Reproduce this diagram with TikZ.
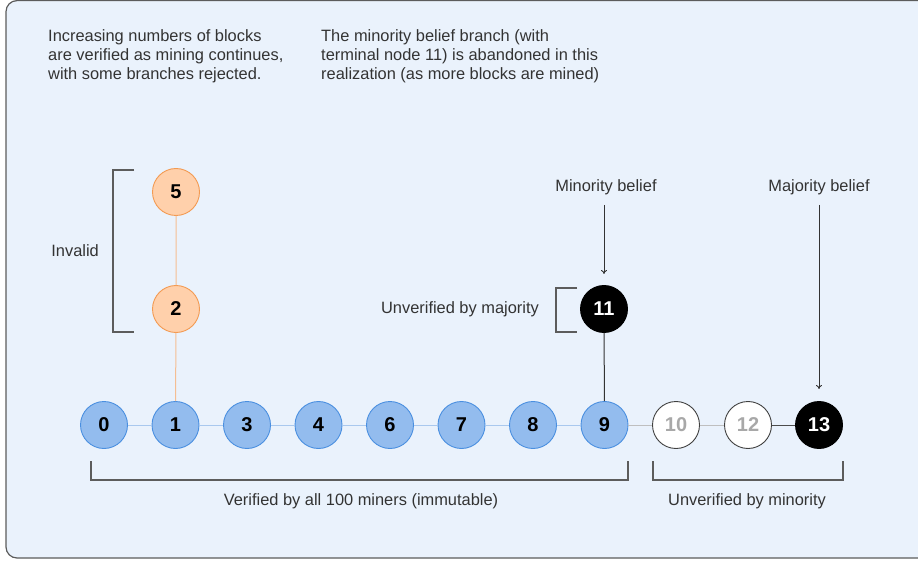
\documentclass[tikz,border=0pt]{standalone}
\usepackage{fontspec}
\setmainfont{Liberation Sans}
\usetikzlibrary{arrows.meta}
\definecolor{panelbg}{HTML}{EAF2FC}
\definecolor{panelline}{HTML}{5C5C5C}
\definecolor{blkblue}{HTML}{93BCEE}
\definecolor{blkblueline}{HTML}{4A8FE0}
\definecolor{linkblue}{HTML}{A9C8EE}
\definecolor{blkorange}{HTML}{FFD0AB}
\definecolor{blkorangeline}{HTML}{F39A52}
\definecolor{linkorange}{HTML}{F5BE93}
\definecolor{txtgray}{HTML}{333333}
\definecolor{numgray}{HTML}{A8A8A8}

\begin{document}
\begin{tikzpicture}[x=1pt, y=-1pt,
  blk/.style={circle, minimum size=47pt, inner sep=0pt, line width=0.9pt,
    font=\fontsize{20}{20}\selectfont\bfseries},
  verified/.style={blk, fill=blkblue, draw=blkblueline},
  invalid/.style={blk, fill=blkorange, draw=blkorangeline},
  pending/.style={blk, fill=white, draw=black!75, text=numgray},
  belief/.style={blk, fill=black, draw=black, text=white},
  lbl/.style={text=txtgray, font=\fontsize{16.4}{19}\selectfont, inner sep=0pt},
  brk/.style={draw=panelline, line width=1.1pt},
  pointer/.style={draw=txtgray, line width=0.9pt, -{To[length=4pt,width=6pt]}}]

  \useasboundingbox (0,0) rectangle (918,561);
  \begin{scope}
    \clip (0,0) rectangle (918,561);
    % Panel
    \draw[fill=panelbg, draw=panelline, line width=1.2pt, rounded corners=11pt]
      (6,0.6) rectangle (940,558);
  \end{scope}

  % Captions
  \node[lbl, anchor=north west, align=left] (capleft) at (48,29)
    {Increasing numbers of blocks\\are verified as mining continues,\\with some branches rejected.};
  \node[lbl, anchor=north west, align=left] (capright) at (321,29)
    {The minority belief branch (with\\terminal node 11) is abandoned in this\\realization (as more blocks are mined)};

  % Main chain
  \foreach \n [count=\i from 0] in {0,1,3,4,6,7,8,9}
    \node[verified] (b\n) at ({104+71.5*\i},425) {\n};
  \node[pending] (b10) at (676,425) {10};
  \node[pending] (b12) at (748,425) {12};
  \node[belief] (b13) at (819,425) {13};

  % Rejected and minority branches
  \node[invalid] (b2) at (176,309) {2};
  \node[invalid] (b5) at (176,192) {5};
  \node[belief] (b11) at (604,309) {11};

  % Links
  \foreach \a/\b in {0/1,1/3,3/4,4/6,6/7,7/8,8/9}
    \draw[linkblue, line width=1pt] (b\a) -- (b\b);
  \draw[black!25, line width=1pt] (b9) -- (b10) -- (b12);
  \draw[black!70, line width=1pt] (b12) -- (b13);
  \draw[linkorange, line width=1pt] (b1) -- (b2) -- (b5);
  \draw[black!80, line width=1pt] (b9) -- (b11);

  % Brackets
  \draw[brk] (134,170) -- (113,170) -- (113,332) -- (134,332);
  \node[lbl, anchor=east] (invlbl) at (99,251) {Invalid};

  \draw[brk] (577,288) -- (556,288) -- (556,332) -- (577,332);
  \node[lbl, anchor=east] (unmaj) at (539,309) {Unverified by majority};

  \draw[brk] (91,461) -- (91,480) -- (628,480) -- (628,461);
  \node[lbl] (verall) at (361,501) {Verified by all 100 miners (immutable)};

  \draw[brk] (653,461) -- (653,480) -- (843,480) -- (843,461);
  \node[lbl] (unmin) at (747,501) {Unverified by minority};

  % Beliefs
  \node[lbl] (minbel) at (606,187) {Minority belief};
  \coordinate (minend) at (604,274);
  \draw[pointer] (minbel.south -| minend) ++(0,10) -- (minend);

  \node[lbl] (majbel) at (819,187) {Majority belief};
  \coordinate (majend) at (819,389);
  \draw[pointer] (majbel.south -| majend) ++(0,10) -- (majend);
\end{tikzpicture}
\end{document}
